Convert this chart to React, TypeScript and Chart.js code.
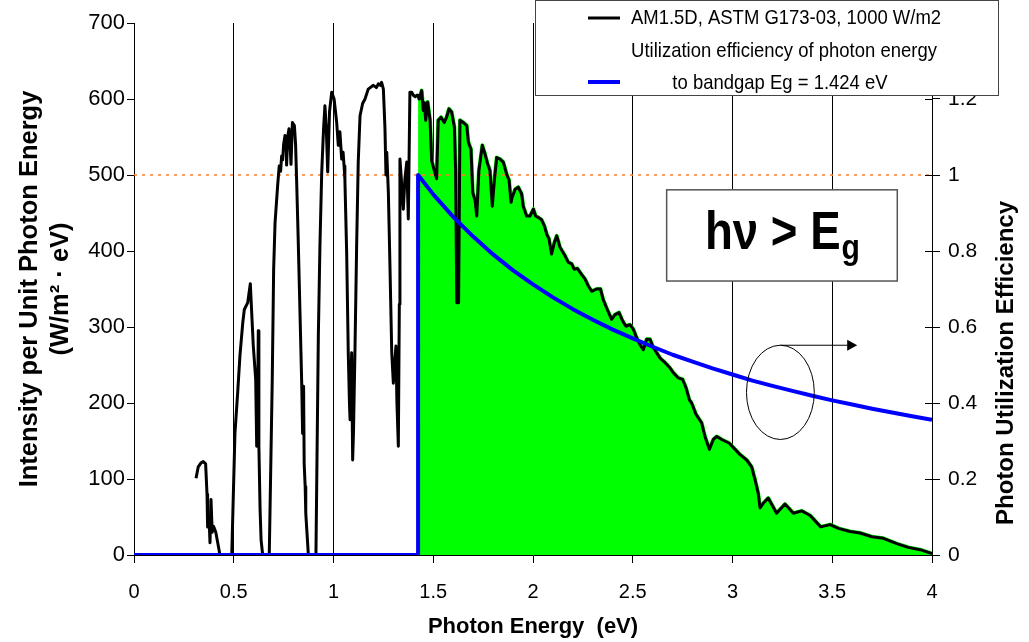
import React, { useEffect, useRef } from "react";
import { Chart, registerables } from "chart.js";

Chart.register(...registerables);

const FONT = "'Liberation Sans', Arial, sans-serif";

// AM1.5D spectrum: photon energy (eV) and intensity per unit photon energy (W/m2 eV)
const spectrumEnergy = [
  0.311, 0.322, 0.335, 0.347, 0.359, 0.366, 0.369, 0.376, 0.381, 0.386, 0.392, 0.398, 0.403, 0.41, 0.431,
  0.49, 0.506, 0.52, 0.531, 0.545, 0.553, 0.57, 0.583, 0.598, 0.61, 0.615, 0.62, 0.623, 0.626, 0.632, 0.637, 0.645,
  0.678, 0.693, 0.7, 0.707, 0.72, 0.728, 0.735, 0.74, 0.745, 0.75, 0.757, 0.762, 0.765, 0.77, 0.777, 0.782, 0.787,
  0.794, 0.804, 0.81, 0.815, 0.823, 0.832, 0.841, 0.845, 0.85, 0.853, 0.858, 0.861, 0.874,
  0.912, 0.924, 0.932, 0.941, 0.95, 0.957, 0.964, 0.971, 0.98, 0.991, 1.003, 1.016, 1.024, 1.032, 1.041, 1.048,
  1.053, 1.057, 1.066, 1.074, 1.08, 1.083, 1.087, 1.091, 1.096, 1.1, 1.108, 1.116, 1.124, 1.133, 1.146, 1.158,
  1.174, 1.2, 1.215, 1.225, 1.235, 1.241, 1.25, 1.258, 1.263, 1.267, 1.275, 1.283, 1.292, 1.3, 1.306, 1.313,
  1.318, 1.325, 1.33, 1.333, 1.34, 1.35, 1.358, 1.367, 1.375, 1.383, 1.392, 1.4, 1.41, 1.417, 1.424,
  1.43, 1.442, 1.45, 1.456, 1.462, 1.472, 1.484, 1.492, 1.505, 1.517, 1.525, 1.539, 1.555, 1.567, 1.579, 1.592,
  1.606, 1.612, 1.618, 1.627, 1.634, 1.651, 1.668, 1.676, 1.689, 1.698, 1.71, 1.718, 1.729, 1.746, 1.759, 1.772,
  1.784, 1.796, 1.806, 1.818, 1.835, 1.851, 1.868, 1.88, 1.89, 1.895, 1.91, 1.926, 1.943, 1.951, 1.968, 1.985,
  2.002, 2.013, 2.027, 2.043, 2.057, 2.069, 2.08, 2.093, 2.107, 2.119, 2.135, 2.16, 2.177, 2.194, 2.206, 2.222,
  2.244, 2.261, 2.277, 2.294, 2.319, 2.338, 2.352, 2.369, 2.394, 2.41, 2.431, 2.449, 2.466, 2.486, 2.503, 2.516,
  2.536, 2.553, 2.57, 2.586, 2.603, 2.62, 2.637, 2.662, 2.687, 2.703, 2.728, 2.75, 2.767, 2.784, 2.795, 2.817,
  2.845, 2.862, 2.884, 2.904, 2.921, 2.946, 2.984, 3.013, 3.038, 3.071, 3.096, 3.113, 3.129, 3.138, 3.154, 3.179,
  3.221, 3.263, 3.305, 3.347, 3.389, 3.442, 3.489, 3.531, 3.589, 3.639, 3.698, 3.756, 3.823, 3.881, 3.94, 4.0,
];
const spectrumIntensity = [
  101, 116, 121, 123, 120, 80, 37, 50, 16, 73, 30, 38, 35, 30, 0,
  0, 160, 215, 262, 305, 323, 332, 357, 275, 231, 143, 200, 295, 143, 60, 20, 0,
  0, 231, 376, 437, 486, 512, 505, 525, 520, 540, 552, 545, 513, 550, 561, 540, 514,
  569, 565, 540, 495, 416, 319, 222, 160, 222, 120, 90, 55, 0,
  0, 288, 407, 504, 560, 591, 560, 504, 583, 609, 600, 569, 539, 557, 521, 530,
  512, 495, 398, 266, 200, 178, 220, 266, 125, 160, 275, 407, 517, 578, 594, 600,
  613, 618, 615, 620, 618, 622, 613, 561, 500, 530, 477, 380, 266, 226, 250, 275,
  200, 143, 330, 521, 495, 455, 495, 517, 442, 609, 609, 605, 603, 605, 605,
  600, 611, 585, 595, 572, 596, 572, 519, 506, 495, 572, 576, 569, 576, 587, 583,
  563, 506, 332, 332, 572, 569, 565, 543, 534, 477, 466, 446, 506, 539, 528, 515,
  506, 459, 492, 523, 521, 517, 501, 493, 464, 470, 481, 484, 475, 459, 446, 446,
  455, 446, 444, 441, 433, 422, 416, 396, 411, 420, 405, 394, 385, 383, 376, 377,
  369, 363, 354, 347, 350, 350, 336, 325, 310, 316, 319, 308, 301, 303, 297, 288,
  277, 270, 284, 284, 273, 266, 259, 253, 246, 240, 233, 231, 220, 204, 200, 185,
  174, 156, 139, 152, 156, 152, 147, 139, 132, 125, 116, 99, 81, 62, 68, 75,
  55, 67, 55, 58, 52, 37, 40, 35, 31, 29, 24, 22, 15, 10, 7, 2,
];

// Photon utilization efficiency for a bandgap of 1.424 eV
const bandgapEnergy = 1.424;
const efficiencyEnergy = [
  0, 1.424, 1.424, 1.5, 1.6, 1.7, 1.8, 1.9, 2.0, 2.1, 2.2, 2.3, 2.4, 2.5, 2.6, 2.7, 2.8, 2.9,
  3.0, 3.1, 3.2, 3.3, 3.4, 3.5, 3.6, 3.7, 3.8, 3.9, 4.0,
];
const efficiencyValue = [
  0, 0, 1.0, 0.949, 0.89, 0.838, 0.791, 0.749, 0.712, 0.678, 0.647, 0.619, 0.593, 0.57, 0.548,
  0.527, 0.509, 0.491, 0.475, 0.459, 0.445, 0.432, 0.419, 0.407, 0.396, 0.385, 0.375, 0.365, 0.356,
];

// Horizontal dotted reference line (efficiency = 1)
const referenceEnergy = [0, 4];
const referenceIntensity = [500, 500];

const legendLines = [
  "AM1.5D, ASTM G173-03, 1000 W/m2",
  "Utilization efficiency of photon energy",
  "to bandgap Eg = 1.424 eV",
];
const xTitle = "Photon Energy  (eV)";
const yTitle = ["Intensity per Unit Photon Energy", "(W/m\u00B2 \u00B7 eV)"];
const y1Title = "Photon Utilization Efficiency";

function squeezedText(ctx, text, x, y, sx, align) {
  ctx.save();
  ctx.translate(x, y);
  ctx.scale(sx, 1);
  ctx.textAlign = align;
  ctx.fillText(text, 0, 0);
  ctx.restore();
}

const fmt = (v) => String(Math.round(Number(v) * 10) / 10);

const overlayPlugin = {
  id: "overlay",
  afterDatasetsDraw(chart) {
    const ctx = chart.ctx;
    const xs = chart.scales.x;
    const ys = chart.scales.y;
    // h nu > Eg box
    const bx0 = xs.getPixelForValue(2.67);
    const bx1 = xs.getPixelForValue(3.826);
    const by0 = ys.getPixelForValue(480.5);
    const by1 = ys.getPixelForValue(360.5);
    ctx.save();
    ctx.fillStyle = "#fff";
    ctx.fillRect(bx0, by0, bx1 - bx0, by1 - by0);
    ctx.strokeStyle = "#555";
    ctx.lineWidth = 1.5;
    ctx.strokeRect(bx0, by0, bx1 - bx0, by1 - by0);
    ctx.fillStyle = "#000";
    ctx.textBaseline = "alphabetic";
    ctx.font = `bold 53px ${FONT}`;
    const sx = 0.86;
    const main = "h\u03BD > E";
    const mw = ctx.measureText(main).width * sx;
    ctx.font = `bold 35px ${FONT}`;
    const gw = ctx.measureText("g").width * sx;
    const total = mw + gw;
    const startX = (bx0 + bx1) / 2 - total / 2;
    ctx.font = `bold 53px ${FONT}`;
    squeezedText(ctx, main, startX, by0 + 59, sx, "left");
    ctx.font = `bold 35px ${FONT}`;
    squeezedText(ctx, "g", startX + mw + 1, by0 + 69, sx, "left");
    ctx.restore();

    // ellipse and arrow pointing to the right axis
    const cx = xs.getPixelForValue(3.24);
    const cy = ys.getPixelForValue(214);
    const rx = xs.getPixelForValue(3.41) - cx;
    const ry = cy - ys.getPixelForValue(276);
    ctx.save();
    ctx.strokeStyle = "#000";
    ctx.lineWidth = 1;
    ctx.beginPath();
    ctx.ellipse(cx, cy, rx, ry, 0, 0, Math.PI * 2);
    ctx.stroke();
    const ay = cy - ry;
    const ax1 = xs.getPixelForValue(3.625);
    ctx.beginPath();
    ctx.moveTo(cx, ay);
    ctx.lineTo(ax1 - 8, ay);
    ctx.stroke();
    ctx.beginPath();
    ctx.moveTo(ax1, ay);
    ctx.lineTo(ax1 - 10, ay - 5.5);
    ctx.lineTo(ax1 - 10, ay + 5.5);
    ctx.closePath();
    ctx.fillStyle = "#000";
    ctx.fill();
    ctx.restore();
  },
  afterDraw(chart) {
    const ctx = chart.ctx;
    const y1 = chart.scales.y1;
    // right-axis tick marks cross the axis
    ctx.save();
    ctx.strokeStyle = "#000";
    ctx.lineWidth = 1;
    y1.ticks.forEach((t) => {
      const py = Math.round(y1.getPixelForValue(t.value)) + 0.5;
      ctx.beginPath();
      ctx.moveTo(y1.left - 7, py);
      ctx.lineTo(y1.left, py);
      ctx.stroke();
    });
    // right axis title, reading bottom to top
    const area = chart.chartArea;
    ctx.translate(1006, (area.top + area.bottom) / 2 + 74);
    ctx.rotate(-Math.PI / 2);
    ctx.fillStyle = "#000";
    ctx.font = `bold 24px ${FONT}`;
    ctx.textAlign = "center";
    ctx.textBaseline = "middle";
    ctx.fillText(y1Title, 0, 0);
    ctx.restore();

    // legend box
    const lx0 = 535, lx1 = 998, ly0 = 0, ly1 = 95;
    ctx.save();
    ctx.fillStyle = "#fff";
    ctx.fillRect(lx0, ly0, lx1 - lx0, ly1 - ly0);
    ctx.strokeStyle = "#444";
    ctx.lineWidth = 1;
    ctx.strokeRect(lx0 + 0.5, ly0 + 0.5, lx1 - lx0, ly1 - ly0);
    ctx.lineWidth = 3;
    ctx.strokeStyle = "#000";
    ctx.beginPath();
    ctx.moveTo(588, 18);
    ctx.lineTo(620, 18);
    ctx.stroke();
    ctx.lineWidth = 4;
    ctx.strokeStyle = "#0000ff";
    ctx.beginPath();
    ctx.moveTo(588, 82);
    ctx.lineTo(620, 82);
    ctx.stroke();
    ctx.fillStyle = "#000";
    ctx.font = `21px ${FONT}`;
    ctx.textBaseline = "middle";
    const centers = [786, 784, 780];
    const ys = [18, 51, 83];
    legendLines.forEach((t, i) => squeezedText(ctx, t, centers[i], ys[i], 0.88, "center"));
    ctx.restore();
  },
};

export default function App() {
  const canvasRef = useRef(null);

  useEffect(() => {
    const spectrum = spectrumEnergy.map((e, i) => ({ x: e, y: spectrumIntensity[i] }));
    const aboveGap = spectrum.filter((p) => p.x >= bandgapEnergy);
    const efficiency = efficiencyEnergy.map((e, i) => ({ x: e, y: efficiencyValue[i] }));
    const reference = referenceEnergy.map((e, i) => ({ x: e, y: referenceIntensity[i] }));

    const chart = new Chart(canvasRef.current, {
      type: "line",
      data: {
        datasets: [
          {
            label: "efficiency",
            data: efficiency,
            yAxisID: "y1",
            borderColor: "#0000ff",
            borderWidth: 4,
            borderJoinStyle: "round",
            pointRadius: 0,
            tension: 0,
            fill: false,
            order: 1,
          },
          {
            label: "spectrum",
            data: spectrum,
            yAxisID: "y",
            borderColor: "#000",
            borderWidth: 3,
            borderJoinStyle: "round",
            pointRadius: 0,
            tension: 0,
            fill: false,
            order: 2,
          },
          {
            label: "reference",
            data: reference,
            yAxisID: "y",
            borderColor: "#ff7f27",
            borderWidth: 1.5,
            borderDash: [3, 5],
            pointRadius: 0,
            fill: false,
            order: 3,
          },
          {
            label: "absorbed",
            data: aboveGap,
            yAxisID: "y",
            borderColor: "#00ff00",
            backgroundColor: "#00ff00",
            borderWidth: 4,
            borderJoinStyle: "round",
            pointRadius: 0,
            tension: 0,
            fill: "origin",
            order: 4,
          },
        ],
      },
      options: {
        responsive: false,
        animation: false,
        events: [],
        layout: { padding: { top: 23, left: 0, right: 0, bottom: 0 } },
        plugins: { legend: { display: false }, tooltip: { enabled: false } },
        scales: {
          x: {
            type: "linear",
            position: "bottom",
            min: 0,
            max: 4,
            ticks: {
              stepSize: 0.5,
              color: "#000",
              font: { family: FONT, size: 20 },
              padding: 17,
              maxRotation: 0,
              callback: fmt,
            },
            grid: { color: "#000", lineWidth: 1, tickLength: 8, tickColor: "#000" },
            border: { color: "#000", width: 1 },
            title: {
              display: true,
              text: xTitle,
              color: "#000",
              font: { family: FONT, size: 22, weight: "bold" },
              padding: { top: 0, bottom: 2 },
            },
            afterFit(s) {
              s.height = 87;
            },
          },
          y: {
            position: "left",
            min: 0,
            max: 700,
            ticks: { stepSize: 100, color: "#000", font: { family: FONT, size: 22 }, padding: 2 },
            grid: { drawOnChartArea: false, tickLength: 7, color: "#000", tickColor: "#000" },
            border: { color: "#000", width: 1 },
            title: {
              display: true,
              text: yTitle,
              color: "#000",
              font: { family: FONT, size: 25.5, weight: "bold", lineHeight: 1.22 },
              padding: { top: 14, bottom: 0 },
            },
            afterFit(s) {
              s.width = 134;
            },
          },
          y1: {
            position: "right",
            min: 0,
            max: 1.4,
            ticks: {
              stepSize: 0.2,
              color: "#000",
              font: { family: FONT, size: 21 },
              padding: 8,
              callback: fmt,
            },
            grid: { drawOnChartArea: false, tickLength: 8, color: "#000", tickColor: "#000" },
            border: { color: "#000", width: 1 },
            title: { display: false },
            afterFit(s) {
              s.width = 97;
            },
          },
        },
      },
      plugins: [overlayPlugin],
    });
    return () => chart.destroy();
  }, []);

  return (
    <div style={{ position: "absolute", left: 0, top: 0, width: 1029, height: 642, background: "#fff" }}>
      <canvas ref={canvasRef} width={1029} height={642} style={{ display: "block" }} />
    </div>
  );
}
